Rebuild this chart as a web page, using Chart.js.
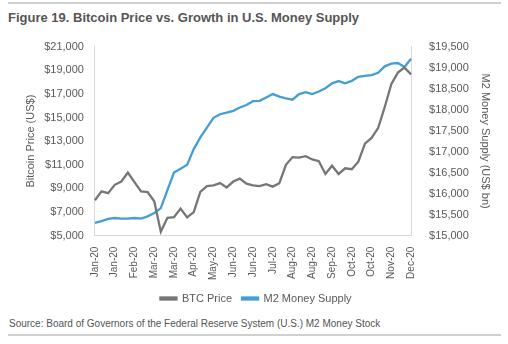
<!DOCTYPE html>
<html>
<head>
<meta charset="utf-8">
<script src="https://cdn.jsdelivr.net/npm/chart.js@4"></script>
<style>
  body { margin: 0; background: #fff; font-family: "Liberation Sans", Arial, sans-serif; }
  #wrap { position: relative; width: 508px; height: 344px; overflow: hidden; }
  .rule { position: absolute; left: 8px; width: 493px; height: 2px; background: #d0d0d0; }
  #title { position: absolute; left: 8px; top: 10px; font: bold 13px "Liberation Sans Narrow", "Arial Narrow", sans-serif; color: #555; }
  #source { position: absolute; left: 9px; top: 318px; font: 10px "Liberation Sans", Arial, sans-serif; color: #555; }
  #box { position: absolute; left: 0; top: 30px; width: 508px; height: 284px; }
</style>
</head>
<body>
<div id="wrap">
  <div class="rule" style="top:2px"></div>
  <div id="title">Figure 19. Bitcoin Price vs. Growth in U.S. Money Supply</div>
  <div id="box"><canvas id="chart"></canvas></div>
  <div id="source">Source: Board of Governors of the Federal Reserve System (U.S.) M2 Money Stock</div>
  <div class="rule" style="top:334px"></div>
</div>
<script>
// weekly observations, Jan-20 .. Dec-20
const weeks = [
  'Jan-20','Jan-20','Jan-20','Jan-20','Feb-20','Feb-20','Feb-20','Feb-20',
  'Mar-20','Mar-20','Mar-20','Mar-20','Mar-20','Apr-20','Apr-20','Apr-20','Apr-20',
  'May-20','May-20','May-20','May-20','Jun-20','Jun-20','Jun-20','Jun-20','Jun-20',
  'Jul-20','Jul-20','Jul-20','Jul-20','Aug-20','Aug-20','Aug-20','Aug-20','Aug-20',
  'Sep-20','Sep-20','Sep-20','Sep-20','Oct-20','Oct-20','Oct-20','Oct-20',
  'Nov-20','Nov-20','Nov-20','Nov-20','Nov-20','Dec-20'
];

const btcPrice = [
  8000, 8750, 8600, 9300, 9580, 10340, 9530, 8750, 8690, 7910,
  5340, 6510, 6570, 7290, 6550, 7000, 8700, 9200, 9250, 9450,
  9080, 9580, 9830, 9400, 9250, 9200, 9360, 9150, 9440, 11000,
  11650, 11600, 11730, 11450, 11300, 10220, 10920, 10220, 10700, 10620,
  11260, 12790, 13270, 14110, 15870, 17820, 18800, 19220, 18650
];

const m2Supply = [
  15305, 15345, 15400, 15420, 15405, 15405, 15420, 15405, 15460, 15540,
  15655, 16085, 16500, 16595, 16690, 17060, 17340, 17570, 17805, 17890,
  17930, 17970, 18050, 18110, 18200, 18210, 18290, 18370, 18310, 18270,
  18235, 18370, 18415, 18370, 18430, 18510, 18625, 18680, 18625, 18685,
  18780, 18805, 18820, 18875, 19030, 19095, 19110, 19015, 19210
];

const labelEvery = 3;
const txt = '#595959';
const axisLine = '#d9d9d9';

const ctx = document.getElementById('chart');
let chart = new Chart(ctx, {
    type: 'line',
    data: {
        labels: weeks,
        datasets: [
            {
                label: 'BTC Price',
                data: btcPrice,
                yAxisID: 'yBtc',
                borderColor: '#767676',
                backgroundColor: '#767676',
                borderWidth: 2.3,
                pointRadius: 0,
                tension: 0
            },
            {
                label: 'M2 Money Supply',
                data: m2Supply,
                yAxisID: 'yM2',
                borderColor: '#449ed6',
                backgroundColor: '#449ed6',
                borderWidth: 2.3,
                pointRadius: 0,
                tension: 0
            }
        ]
    },
    options: {
        responsive: true,
        maintainAspectRatio: false,
        animation: false,
        layout: { padding: { left: 20, right: 16, top: 16, bottom: 0 } },
        plugins: {
            legend: {
                position: 'bottom',
                labels: {
                    color: txt,
                    font: { size: 11, family: 'Liberation Sans' },
                    boxWidth: 16,
                    boxHeight: 2,
                    padding: 10
                }
            },
            tooltip: { enabled: false }
        },
        scales: {
            x: {
                offset: false,
                grid: { display: false },
                border: { color: axisLine },
                ticks: {
                    autoSkip: false,
                    maxRotation: 90,
                    minRotation: 90,
                    color: txt,
                    font: { size: 10, family: 'Liberation Sans' },
                    callback: (v, i) => i % labelEvery === 0 ? weeks[i] : ''
                }
            },
            yBtc: {
                position: 'left',
                min: 5000,
                max: 21000,
                grid: { display: false },
                border: { color: axisLine },
                ticks: {
                    stepSize: 2000,
                    color: txt,
                    font: { size: 11, family: 'Liberation Sans' },
                    callback: v => '$' + v.toLocaleString('en-US')
                },
                title: {
                    display: true,
                    text: 'Bitcoin Price (US$)',
                    color: txt,
                    font: { size: 11, family: 'Liberation Sans' }
                }
            },
            yM2: {
                position: 'right',
                min: 15000,
                max: 19500,
                grid: { display: false },
                border: { color: axisLine },
                ticks: {
                    stepSize: 500,
                    padding: 10,
                    color: txt,
                    font: { size: 11, family: 'Liberation Sans' },
                    callback: v => '$' + v.toLocaleString('en-US')
                },
                title: {
                    display: true,
                    text: 'M2 Money Supply (US$ bn)',
                    color: txt,
                    padding: 0,
                    font: { size: 11, family: 'Liberation Sans' }
                }
            }
        }
    }
});
</script>
</body>
</html>
